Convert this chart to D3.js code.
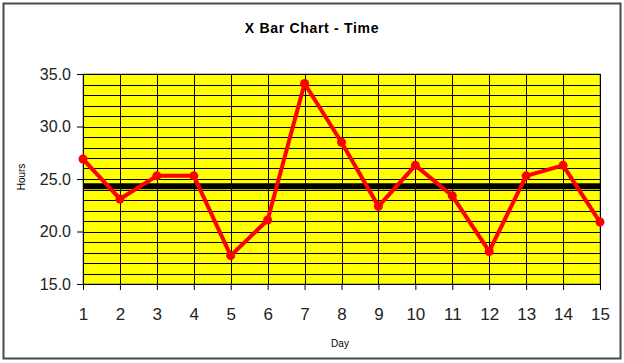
<html>
<head>
    <title>X Bar Chart - Time</title>
    <script src="https://d3js.org/d3.v7.min.js"></script>
    <style>
        body { margin: 0; background: #fff; }
        text { font-family: Arial, "Liberation Sans", sans-serif; }
    </style>
</head>
<body>
    <svg id="chart" width="624" height="363"></svg>

    <script>
        // values
        const days = [1, 2, 3, 4, 5, 6, 7, 8, 9, 10, 11, 12, 13, 14, 15];
        const hours = [26.9, 23.1, 25.3, 25.3, 17.7, 21.1, 34.1, 28.5, 22.4, 26.3, 23.4, 18.1, 25.3, 26.3, 20.9];
        const xbar = [24.3];
        const yTicks = [15, 20, 25, 30, 35];
        const yGrid = d3.range(15, 36, 1);

        const svg = d3.select("#chart");
        const margin = {top: 74, right: 24, bottom: 79, left: 83};
        const width = +svg.attr("width");
        const height = +svg.attr("height");
        const innerWidth = width - margin.left - margin.right;
        const innerHeight = height - margin.top - margin.bottom;

        // outer frame
        svg.append("rect")
            .attr("x", 3.5).attr("y", 3.5)
            .attr("width", 617).attr("height", 355)
            .attr("fill", "white")
            .attr("stroke", "#4a4a4a")
            .attr("stroke-width", 2);

        svg.append("text")
            .attr("x", 312).attr("y", 33)
            .attr("text-anchor", "middle")
            .attr("font-size", 14)
            .attr("font-weight", "bold")
            .attr("letter-spacing", 0.7)
            .text("X Bar Chart - Time");

        const g = svg.append("g").attr("transform", `translate(${margin.left},${margin.top})`);

        const x = d3.scaleLinear().domain([1, 15]).range([0, innerWidth]);
        const y = d3.scaleLinear().domain([15, 35]).range([innerHeight, 0]);

        g.append("rect")
            .attr("width", innerWidth).attr("height", innerHeight)
            .attr("fill", "#ffff00")
            .attr("stroke", "#808080");

        // grid
        g.selectAll(".hgrid").data(yGrid).enter().append("line")
            .attr("x1", 0).attr("x2", innerWidth)
            .attr("y1", d => Math.round(y(d)) + 0.5).attr("y2", d => Math.round(y(d)) + 0.5)
            .attr("stroke", "#000").attr("stroke-width", 1);
        g.selectAll(".vgrid").data(days).enter().append("line")
            .attr("y1", 0).attr("y2", innerHeight)
            .attr("x1", d => Math.round(x(d)) + 0.5).attr("x2", d => Math.round(x(d)) + 0.5)
            .attr("stroke", "#000").attr("stroke-width", 1);

        // axes
        const xAxis = g.append("g")
            .attr("transform", `translate(0,${innerHeight})`)
            .call(d3.axisBottom(x).tickValues(days).tickFormat(d3.format("d")).tickSize(6).tickPadding(18));
        const yAxis = g.append("g")
            .call(d3.axisLeft(y).tickValues(yTicks).tickFormat(d3.format(".1f")).tickSize(6).tickPadding(6));

        [xAxis, yAxis].forEach(a => {
            a.select(".domain").attr("stroke", "#000");
            a.selectAll(".tick line").attr("stroke", "#000");
            a.selectAll(".tick text")
                .attr("fill", "#222")
                .attr("font-family", "Arial, 'Liberation Sans', sans-serif");
        });
        xAxis.selectAll(".tick text").attr("font-size", 17);
        yAxis.selectAll(".tick text").attr("font-size", 16);

        // mean line
        g.append("line")
            .attr("x1", 0).attr("x2", innerWidth)
            .attr("y1", y(xbar[0])).attr("y2", y(xbar[0]))
            .attr("stroke", "#000").attr("stroke-width", 6);

        // data line
        const pts = days.map((d, i) => [d, hours[i]]);
        g.append("path")
            .datum(pts)
            .attr("fill", "none")
            .attr("stroke", "#ff0000")
            .attr("stroke-width", 4)
            .attr("stroke-linejoin", "round")
            .attr("d", d3.line().x(d => x(d[0])).y(d => y(d[1])));

        g.selectAll(".pt").data(pts).enter().append("circle")
            .attr("cx", d => x(d[0])).attr("cy", d => y(d[1]))
            .attr("r", 4.5)
            .attr("fill", "#ff0000");

        // axis titles
        svg.append("text")
            .attr("transform", "translate(25,177) rotate(-90)")
            .attr("text-anchor", "middle")
            .attr("font-size", 10)
            .text("Hours");
        svg.append("text")
            .attr("x", 340).attr("y", 347)
            .attr("text-anchor", "middle")
            .attr("font-size", 10)
            .text("Day");
    </script>
</body>
</html>
